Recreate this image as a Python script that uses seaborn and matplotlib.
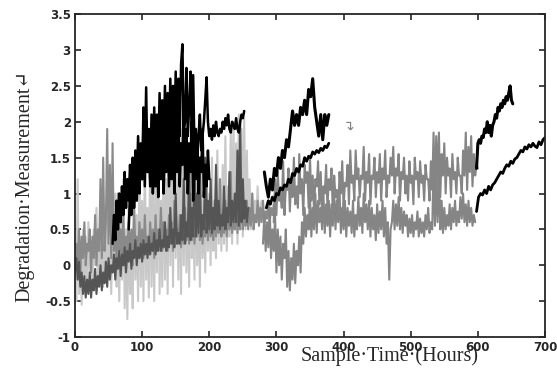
import numpy as np
import pandas as pd
import matplotlib
matplotlib.use("Agg")
import matplotlib.pyplot as plt
import seaborn as sns

# ---- data ----
# each series: start hour, step in hours, values
lg_start, lg_step = 0, 2
lg_vals = [0.1, -0.5, 1.2, -0.4, 0.3, -0.55, 0.5, -0.2, 0.4, -0.3,
           0.6, -0.1, 0.3, -0.3, 0.5, 0.0, 0.8, -0.2, 0.4, -0.1,
           0.9, -0.3, 0.5, 0.0, 0.7, -0.2, 0.3, -0.4, 0.6, 0.1,
           1.0, -0.3, 0.4, -0.5, 0.8, -0.2, 1.2, -0.6, 0.5, -0.75,
           0.9, -0.4, 0.3, -0.6, 1.1, -0.2, 0.7, -0.5, 1.4, -0.3,
           0.9, -0.5, 1.5, -0.2, 0.8, -0.45, 1.7, -0.3, 1.1, -0.5,
           1.3, -0.1, 1.8, -0.4, 0.9, -0.3, 1.6, -0.2, 1.2, -0.4,
           1.9, 0.0, 1.5, -0.3, 2.0, 0.1, 1.7, -0.2, 1.4, -0.4,
           1.9, 0.0, 1.6, -0.1, 1.2, -0.3, 1.8, 0.1, 1.0, -0.2,
           1.5, 0.0, 1.1, -0.3, 1.4, 0.1, 0.9, -0.1, 1.3, 0.2,
           1.0, 0.0, 1.5, 0.2, 0.8, 0.1, 1.6, 0.3, 1.2, 0.2,
           1.4, 0.3, 1.8, 0.2, 1.1, 0.4, 1.9, 0.3, 2.0, 0.5,
           1.7, 0.3, 2.1, 0.6, 1.9, 0.4, 2.05, 0.5, 1.6, 0.6,
           1.2, 0.5, 1.0, 0.7, 0.9, 0.6, 1.1, 0.7, 0.8, 0.9]

glow_start, glow_step = 0, 2
glow_vals = [-0.1, 0.3, 0.0, 0.5, -0.1, 0.4, 0.1, 0.6, 0.0, 0.3,
             0.2, 0.5, -0.1, 0.4, 0.1, 0.7, 0.0, 0.5, 0.2, 1.2,
             0.1, 1.5, 0.2, 0.6, 1.9, 0.3, 1.4, 0.1, 1.7, 0.2,
             0.6, 0.0, 1.0, 0.2, 0.5, 0.1, 0.7, 0.0, 0.4, 0.2,
             0.6, 0.1, 0.5, 0.0, 0.8, 0.2, 0.4, 0.1, 0.6, 0.2,
             0.5, 0.1, 0.7, 0.2, 0.4, 0.15, 0.6, 0.25, 0.5, 0.1,
             0.7, 0.2, 0.5, 0.3, 0.8, 0.2, 0.6, 0.3, 0.5, 0.2,
             0.7, 0.3, 0.6, 0.2, 0.9, 0.3, 0.5, 0.3, 0.7, 0.25,
             0.6, 0.3, 0.8, 0.35, 0.6, 0.3, 1.0, 0.35, 0.7, 0.3,
             0.6, 0.4, 0.9, 0.35, 0.7, 0.3, 0.6, 0.4, 1.1, 0.35,
             0.7, 0.4, 0.6, 0.35, 0.9, 0.4, 0.7, 0.45, 1.2, 0.4,
             0.7, 0.45, 0.9, 0.4, 0.8, 0.5, 1.3, 0.45, 0.7, 0.5,
             0.9, 0.45, 0.8, 0.5, 1.1, 0.5, 0.7, 0.55, 0.9, 0.5,
             0.8, 0.55, 1.0, 0.5, 0.7, 0.6, 0.9, 0.55, 0.8, 0.6,
             0.9, 0.6, 0.75, 0.65, 0.9, 0.6, 0.8, 0.7, 0.85, 0.7]

dg_start, dg_step = 0, 2
dg_vals = [-0.05, 0.1, -0.2, 0.05, -0.3, -0.1, -0.4, -0.15, -0.45, -0.2,
           -0.4, -0.1, -0.45, -0.2, -0.35, -0.05, -0.4, -0.15, -0.3, 0.0,
           -0.35, -0.1, -0.25, 0.05, -0.3, 0.1, -0.2, 0.0, -0.1, 0.15,
           -0.2, 0.1, -0.05, 0.2, -0.15, 0.15, 0.0, 0.25, -0.1, 0.2,
           0.05, 0.3, -0.05, 0.2, 0.1, 0.35, 0.0, 0.25, 0.1, 0.3,
           0.05, 0.35, 0.15, 0.3, 0.1, 0.4, 0.15, 0.3, 0.2, 0.45,
           0.15, 0.35, 0.2, 0.5, 0.2, 0.35, 0.25, 0.6, 0.2, 0.4,
           0.25, 0.8, 0.3, 0.5, 0.25, 1.0, 0.3, 0.45, 0.3, 0.7,
           0.35, 1.2, 0.3, 0.6, 0.4, 1.4, 0.35, 0.8, 0.4, 1.6,
           0.4, 1.0, 0.45, 1.3, 0.4, 0.7, 0.5, 1.5, 0.45, 0.9,
           0.5, 1.2, 0.45, 0.8, 0.5, 1.4, 0.55, 0.9, 0.5, 0.7,
           0.55, 1.1, 0.5, 0.8, 0.6, 1.3, 0.55, 0.9, 0.6, 1.0,
           0.6, 1.6, 0.55, 2.0, 0.6, 1.2, 0.65, 0.9, 0.6, 0.8]

gup_start, gup_step = 296, 2
gup_vals = [0.6, 1.2, 0.7, 1.3, 0.9, 1.0, 0.8, 1.45, 0.7, 1.1,
            1.05, 1.35, 0.75, 1.2, 0.95, 1.5, 0.85, 1.1, 0.8, 1.55,
            1.0, 1.2, 0.7, 1.4, 1.15, 1.3, 0.8, 1.5, 0.9, 1.25,
            0.75, 1.2, 1.1, 1.45, 0.85, 1.3, 0.7, 1.1, 1.0, 1.4,
            0.8, 1.2, 1.05, 1.35, 0.7, 1.25, 0.95, 1.05, 0.75, 1.3,
            1.0, 1.45, 0.8, 1.15, 1.1, 1.4, 0.85, 1.6, 1.15, 1.25,
            0.9, 1.6, 1.2, 1.35, 0.95, 1.25, 1.2, 1.65, 0.9, 1.3,
            1.15, 1.55, 0.85, 1.25, 1.2, 1.5, 0.95, 1.3, 1.15, 1.55,
            0.9, 1.35, 1.2, 1.6, 0.95, 1.25, 1.15, 1.5, 1.25, 1.65,
            1.0, 1.35, 1.25, 1.55, 0.9, 1.3, 1.2, 1.5, 1.0, 1.25,
            0.9, 1.45, 1.15, 1.25, 0.85, 1.5, 1.2, 1.3, 0.95, 1.45,
            1.15, 1.25, 0.9, 1.4, 1.2, 1.2, 0.9, 1.45, 1.05, 1.85,
            1.0, 1.8, 1.15, 1.85, 0.95, 1.55, 1.25, 1.7, 1.0, 1.5,
            1.25, 1.35, 0.95, 1.55, 1.2, 1.3, 1.0, 1.5, 1.25, 1.25,
            1.0, 1.6, 1.25, 1.85, 1.05, 1.65, 1.3, 1.8, 1.1, 1.55,
            1.25, 1.4, 1.35]

gmid_start, gmid_step = 280, 2
gmid_vals = [0.3, 0.7, 0.2, 0.6, 0.25, 0.8, 0.1, 0.5, 0.2, 0.7,
             -0.1, 0.5, 0.0, 0.4, -0.2, 0.3, 0.1, 0.5, -0.3, 0.2,
             -0.35, 0.1, -0.2, 0.3, -0.25, 0.2, 0.0, 0.4, -0.1, 0.6,
             0.3, 0.8, 0.4, 0.7, 0.5, 0.95, 0.4, 0.8, 0.5, 1.0,
             0.45, 0.9, 0.6, 0.8, 0.5, 1.0, 0.45, 0.85, 0.55, 0.9,
             0.4, 0.85, 0.55, 1.0, 0.5, 0.9, 0.6, 1.05, 0.45, 0.8,
             0.5, 0.9, 0.4, 0.8, 0.55, 0.75, 0.45, 0.9, 0.4, 0.7,
             0.5, 0.95, 0.55, 0.8, 0.45, 1.0, 0.6, 0.85, 0.5, 0.9,
             0.4, 0.8, 0.5, 0.7, 0.35, 0.85, 0.45, 0.75, 0.5, 0.9,
             0.4, 0.8, 0.3, 0.6, -0.2, 0.5, 0.6, 0.9, 0.5, 0.85,
             0.55, 0.95, 0.5, 0.8, 0.45, 0.75, 0.55, 0.7, 0.4, 0.65,
             0.45, 0.7, 0.4, 0.6, 0.5, 0.75, 0.4, 0.65, 0.45, 0.6,
             0.4, 0.7, 0.5, 0.8, 0.45, 0.6, 0.5, 1.4, 0.55, 1.2,
             0.6, 1.3, 0.5, 0.9, 0.45, 0.8, 0.5, 0.7, 0.55, 0.85,
             0.5, 0.8, 0.6, 0.9, 0.55, 0.75, 0.6, 0.95, 0.65, 1.0,
             0.6, 0.85, 0.55, 0.9, 0.6, 0.8, 0.55, 0.7, 0.6]

b1_start, b1_step = 56, 2
b1_vals = [0.3, 0.7, 0.35, 0.9, 0.5, 1.0, 0.6, 1.1, 0.7, 1.3,
           0.8, 1.2, 0.9, 1.4, 1.0, 1.5, 0.9, 1.6, 1.1, 1.8,
           1.1, 1.7, 1.2, 1.9, 1.1, 2.0, 1.3, 1.9, 1.2, 2.1,
           1.3, 2.2, 1.4, 2.1, 1.5, 2.4, 1.4, 2.3, 1.6, 2.5,
           1.5, 2.4, 1.7, 2.6, 1.6, 2.5, 1.8, 2.7, 1.7, 2.6,
           1.8, 2.8, 3.08, 1.9, 2.0, 2.75, 1.8, 2.2, 2.7, 1.7,
           2.65, 1.6, 1.9, 1.5, 1.8, 2.1, 1.6, 1.8, 2.0, 2.3,
           2.62, 2.0, 1.8, 1.9, 1.75, 1.95, 1.8, 2.0, 1.85, 1.8,
           1.9, 1.85, 2.0, 1.9, 2.05, 1.95, 2.1, 1.9, 1.85, 2.0,
           1.95, 1.9, 2.05, 1.9, 1.85, 2.0, 2.1, 2.05, 2.15]

b2_start, b2_step = 80, 2
b2_vals = [0.5, 1.0, 0.7, 1.2, 0.8, 1.1, 0.9, 1.4, 1.0, 1.6,
           1.2, 2.2, 1.4, 2.48, 1.3, 1.8, 1.1, 1.5, 1.0, 1.4,
           1.1, 1.7, 0.95, 1.5, 1.2, 1.8, 1.0, 1.6, 1.3, 2.0,
           1.1, 1.9, 1.2, 2.2, 1.0, 1.8, 1.3, 2.1, 1.1, 1.7,
           1.4, 2.3, 1.2, 1.9, 1.0, 1.7, 1.3, 2.0, 0.9, 1.6,
           1.2, 1.8, 1.0, 1.5, 1.3, 1.9, 0.95, 1.4, 1.1, 1.6,
           1.2]

b3_start, b3_step = 282, 3
b3_vals = [1.3, 1.1, 0.95, 1.2, 1.05, 1.35, 1.25, 1.5, 1.35, 1.6, 1.5, 1.75, 1.65, 1.9, 2.15,
           1.95, 2.1, 1.95, 2.2, 2.1, 2.3, 2.1, 2.45, 2.35, 2.6, 2.2, 2.0, 1.8, 2.1, 1.75, 2.1,
           1.95, 2.1]

b4_start, b4_step = 285, 3
b4_vals = [0.8, 0.9, 0.85, 0.95, 0.9, 1.0, 0.98, 1.08, 1.05, 1.12, 1.1, 1.2, 1.15, 1.28, 1.25,
           1.35, 1.3, 1.4, 1.38, 1.5, 1.45, 1.52, 1.5, 1.58, 1.55, 1.6, 1.57, 1.63, 1.6, 1.66,
           1.64, 1.7]

b5_start, b5_step = 598, 2
b5_vals = [1.35, 1.7, 1.75, 1.7, 1.8, 1.78, 1.9, 1.85, 2.0, 1.85, 1.95, 1.8, 1.95, 2.0, 2.1,
           2.05, 2.2, 2.15, 2.25, 2.2, 2.3, 2.25, 2.35, 2.3, 2.4, 2.5, 2.3, 2.25]

b6_start, b6_step = 598, 3
b6_vals = [0.75, 0.95, 1.0, 0.98, 1.05, 1.0, 1.1, 1.05, 1.12, 1.15, 1.2, 1.25, 1.3, 1.28, 1.35,
           1.4, 1.38, 1.45, 1.42, 1.48, 1.5, 1.55, 1.6, 1.58, 1.65, 1.62, 1.68, 1.65, 1.7, 1.66,
           1.64, 1.72, 1.68, 1.75, 1.78]

x_ticks = [0, 100, 200, 300, 400, 500, 600, 700]
y_ticks = [-1, -0.5, 0, 0.5, 1, 1.5, 2, 2.5, 3, 3.5]
y_ticklabels = ["-1", "-0.5", "0", "0.5", "1", "1.5", "2", "2.5", "3", "3.5"]
x_label = "Sample·Time·(Hours)"
y_label = "Degradation·Measurement↵"

# ---- figure ----
sns.set_style("ticks")
plt.rcParams["font.family"] = ["DejaVu Sans"]
fig = plt.figure(figsize=(5.57, 3.72), dpi=100)
ax = fig.add_axes([0.1346, 0.094, 0.8439, 0.868])

series = [
    (lg_start, lg_step, lg_vals, "#c8c8c8", 1.5),
    (glow_start, glow_step, glow_vals, "#8a8a8a", 1.5),
    (dg_start, dg_step, dg_vals, "#555555", 1.5),
    (gmid_start, gmid_step, gmid_vals, "#858585", 1.5),
    (gup_start, gup_step, gup_vals, "#858585", 1.5),
    (b1_start, b1_step, b1_vals, "#000000", 1.8),
    (b2_start, b2_step, b2_vals, "#000000", 1.8),
    (b3_start, b3_step, b3_vals, "#000000", 2.2),
    (b4_start, b4_step, b4_vals, "#000000", 2.0),
    (b5_start, b5_step, b5_vals, "#000000", 2.2),
    (b6_start, b6_step, b6_vals, "#000000", 2.0),
]
for start, step, vals, col, lw in series:
    xs = start + step * np.arange(len(vals))
    df = pd.DataFrame({"t": xs, "v": vals})
    sns.lineplot(data=df, x="t", y="v", color=col, lw=lw, ax=ax,
                 estimator=None, sort=False)

ax.set_xlim(0, 700)
ax.set_ylim(-1, 3.5)
ax.set_xticks(x_ticks)
ax.set_yticks(y_ticks)
ax.set_yticklabels(y_ticklabels)
ax.tick_params(direction="in", top=True, right=True, length=4, width=1.2,
               labelsize=8.5, pad=3)
for lab in ax.get_xticklabels() + ax.get_yticklabels():
    lab.set_fontweight("bold")
for s in ax.spines.values():
    s.set_linewidth(1.3)
    s.set_visible(True)
ax.set_xlabel("")
ax.set_ylabel("")

fig.text(0.70, 0.042, x_label, ha="center", va="center", fontsize=14.5,
         family=["Liberation Serif", "DejaVu Serif"])
fig.text(0.045, 0.50, y_label, ha="center", va="center", rotation=90, fontsize=14.5,
         family=["Liberation Serif", "DejaVu Serif"])
ax.text(407, 1.95, "↴", color="#808080", fontsize=10, ha="center", va="center",
        family=["DejaVu Sans"])

fig.savefig("out.png", dpi=100)
